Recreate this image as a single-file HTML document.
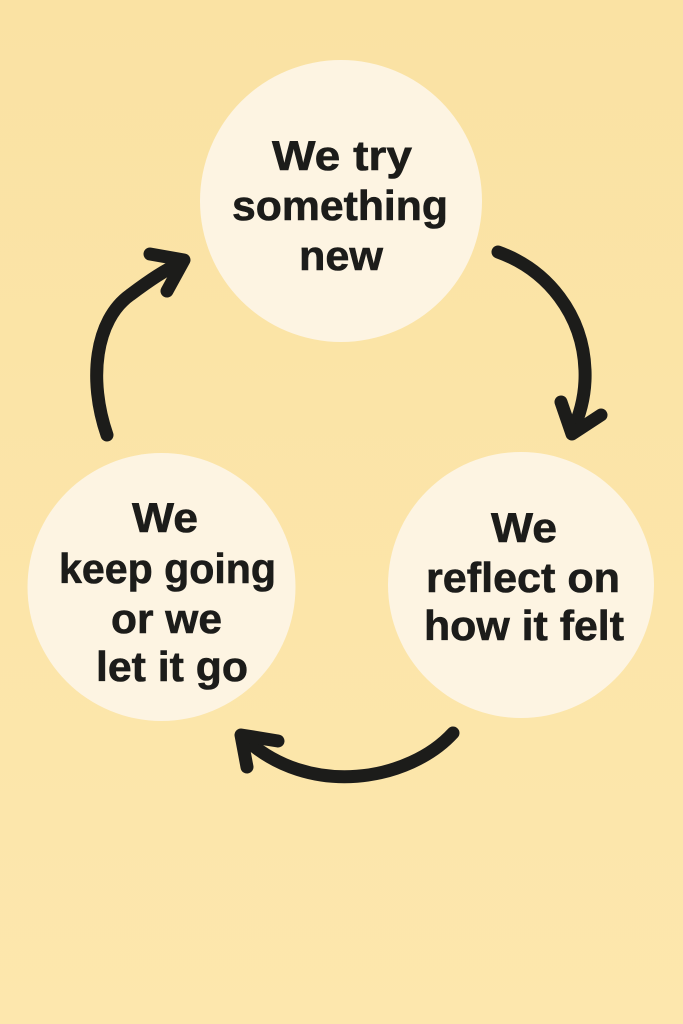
<!DOCTYPE html>
<html>
<head>
<meta charset="utf-8">
<style>
html,body{margin:0;padding:0;}
body{width:683px;height:1024px;overflow:hidden;background:#FCE5A7;}
svg{display:block;}
text{font-family:"Liberation Sans","DejaVu Sans",sans-serif;font-weight:bold;font-size:42px;fill:#1c1c1a;stroke:#1c1c1a;stroke-width:0.6px;}
</style>
</head>
<body>
<svg width="683" height="1024" viewBox="0 0 683 1024" xmlns="http://www.w3.org/2000/svg">
  <defs>
    <linearGradient id="bg" x1="0" y1="0" x2="0" y2="1">
      <stop offset="0" stop-color="#FAE2A3"/>
      <stop offset="1" stop-color="#FDE7AD"/>
    </linearGradient>
  </defs>
  <rect x="0" y="0" width="683" height="1024" fill="url(#bg)"/>

  <!-- circles -->
  <circle cx="341" cy="201" r="141" fill="#FDF4E2"/>
  <circle cx="521" cy="585" r="133" fill="#FDF4E2"/>
  <circle cx="161.5" cy="587" r="134" fill="#FDF4E2"/>

  <!-- top circle text -->
  <text x="272" y="170" textLength="140" lengthAdjust="spacingAndGlyphs">We try</text>
  <text x="232" y="220" textLength="216" lengthAdjust="spacingAndGlyphs">something</text>
  <text x="299" y="270" textLength="84" lengthAdjust="spacingAndGlyphs">new</text>

  <!-- right circle text -->
  <text x="491" y="542" textLength="66" lengthAdjust="spacingAndGlyphs">We</text>
  <text x="426" y="592" textLength="194" lengthAdjust="spacingAndGlyphs">reflect on</text>
  <text x="424" y="640" textLength="200" lengthAdjust="spacingAndGlyphs">how it felt</text>

  <!-- left circle text -->
  <text x="132" y="532" textLength="66" lengthAdjust="spacingAndGlyphs">We</text>
  <text x="59" y="583" textLength="217" lengthAdjust="spacingAndGlyphs">keep going</text>
  <text x="111" y="633" textLength="111" lengthAdjust="spacingAndGlyphs">or we</text>
  <text x="96" y="681" textLength="152" lengthAdjust="spacingAndGlyphs">let it go</text>

  <!-- arrows -->
  <g fill="none" stroke="#1c1c1a" stroke-width="13" stroke-linecap="round" stroke-linejoin="round">
    <!-- top -> right -->
    <path d="M498,252 C548,270 583,315 585,370 C586,395 580,415 572,432"/>
    <path d="M561,402 L572,434 L601,415"/>
    <!-- right -> left (bottom) -->
    <path d="M453,733 C410,780 310,800 243,737"/>
    <path d="M278,741 L241,735 L247,767"/>
    <!-- left -> top -->
    <path d="M107,435 C88,380 95,320 130,295 C150,280 165,270 182,262"/>
    <path d="M150,254 L184,260 L167,291"/>
  </g>
</svg>
</body>
</html>
